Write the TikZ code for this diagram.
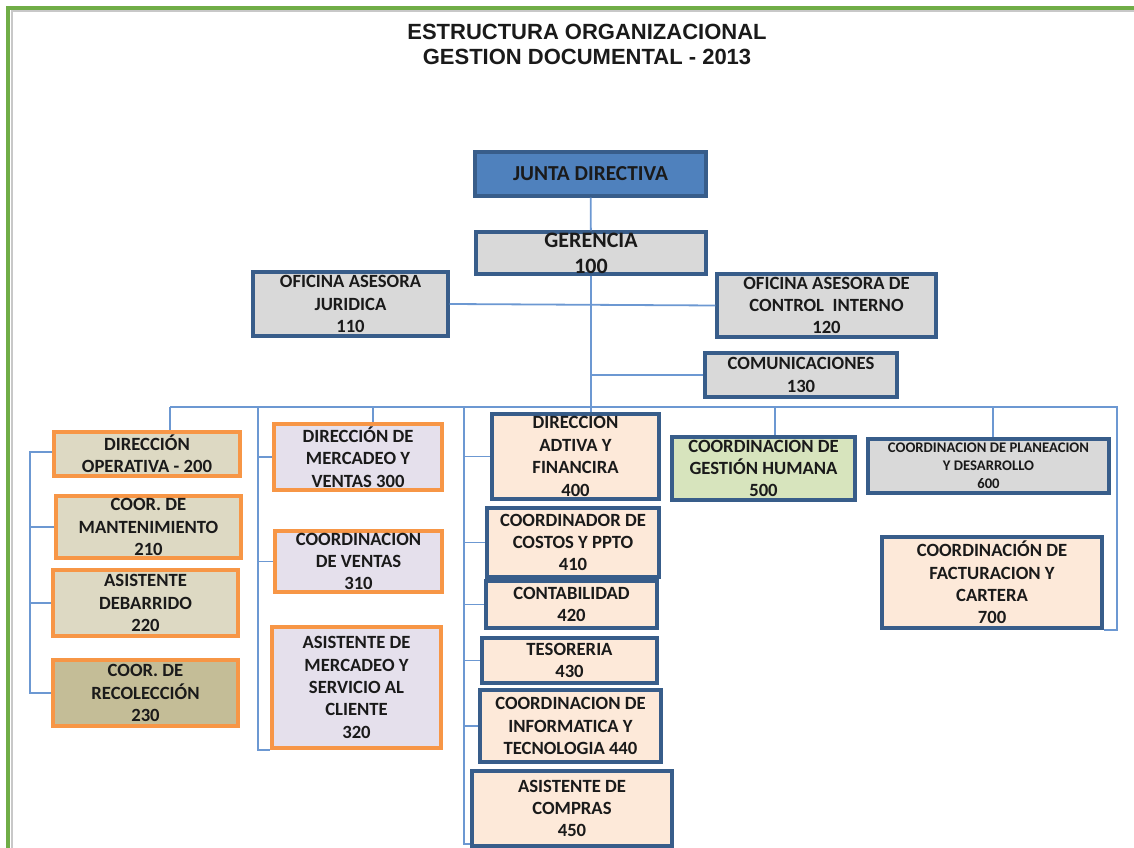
\documentclass[tikz,border=0pt]{standalone}
\usepackage{fontspec}
\setmainfont{Carlito}
\newfontfamily\titulofont{Liberation Sans}
\usetikzlibrary{positioning}
\definecolor{marco}{HTML}{70AD47}
\definecolor{marcogris}{HTML}{C8C8C8}
\definecolor{azuloscuro}{HTML}{385D8A}
\definecolor{azul}{HTML}{4F81BD}
\definecolor{lineaazul}{HTML}{6C98D2}
\definecolor{naranja}{HTML}{F79646}
\definecolor{grisclaro}{HTML}{D9D9D9}
\definecolor{beige}{HTML}{DDD9C3}
\definecolor{oliva}{HTML}{C4BD97}
\definecolor{lila}{HTML}{E5E0EC}
\definecolor{salmon}{HTML}{FDE9D9}
\definecolor{verdeclaro}{HTML}{D7E4BD}
\definecolor{texto}{HTML}{1A1A1A}
\newlength{\unpx}
\setlength{\unpx}{0.75pt}
\tikzset{
  tam/.style 2 args={minimum width=#1\unpx, minimum height=#2\unpx},
  caja/.style={rectangle, draw=azuloscuro, line width=3.2\unpx, fill=grisclaro,
    text=texto, font=\fontsize{14}{16.8}\selectfont\bfseries, align=center,
    inner sep=0pt},
  cajaazul/.style={caja, fill=azul, font=\fontsize{16}{19}\selectfont\bfseries},
  cajager/.style={caja, font=\fontsize{16.5}{19.5}\selectfont\bfseries},
  cajaop/.style={caja, draw=naranja, fill=beige},
  cajarec/.style={cajaop, fill=oliva},
  cajamer/.style={caja, draw=naranja, fill=lila},
  cajafin/.style={caja, fill=salmon},
  cajahum/.style={caja, fill=verdeclaro},
  cajaplan/.style={caja, font=\fontsize{11}{13.5}\selectfont\bfseries},
  linea/.style={draw=lineaazul, line width=1.8\unpx},
  titulo/.style={font=\titulofont\fontsize{16.5}{18.8}\selectfont\bfseries,
    text=texto, align=center}
}

\begin{document}
\begin{tikzpicture}[x=0.75pt, y=-0.75pt]
  \useasboundingbox (0,0) rectangle (1134,848);
  % marco
  \fill[marco] (6,6) rectangle (1134,10);
  \fill[marco] (6,6) rectangle (10,848);
  \draw[marcogris, line width=2\unpx] (11.5,848) -- (11.5,11.5) -- (1134,11.5);

  \node[titulo] (titulo) at (587,44) {ESTRUCTURA ORGANIZACIONAL\\ GESTION DOCUMENTAL - 2013};

  % direccion general
  \node[cajaazul, tam={231}{44}] (junta) at (590.5,174) {JUNTA DIRECTIVA};
  \node[cajager, tam={230}{42}] (gerencia) at (591,253) {GERENCIA\\100};
  \node[caja, tam={195}{64}] (juridica) at (350.5,304) {OFICINA ASESORA\\JURIDICA\\110};
  \node[caja, tam={219}{63}] (control) at (826.5,305.5) {OFICINA ASESORA DE\\CONTROL\ \ INTERNO\\120};
  \node[caja, tam={192}{44}] (comunic) at (801,375) {COMUNICACIONES\\130};

  % operativa
  \node[cajaop, tam={186}{44}] (oper) at (147,454) {DIRECCIÓN\\OPERATIVA - 200};
  \node[cajaop, tam={185}{62}] (mant) at (148.5,527) {COOR. DE\\MANTENIMIENTO\\210};
  \node[cajaop, tam={185}{66}] (barrido) at (145.5,603) {ASISTENTE\\DEBARRIDO\\220};
  \node[cajarec, tam={185}{66}] (recol) at (145.5,693) {COOR. DE\\RECOLECCIÓN\\230};

  % mercadeo
  \node[cajamer, tam={168}{66}] (mercadeo) at (358,457) {DIRECCIÓN DE\\MERCADEO Y\\VENTAS 300};
  \node[cajamer, tam={167}{61}] (ventas) at (358.5,561.5) {COORDINACION\\DE VENTAS\\310};
  \node[cajamer, tam={169}{121}] (servicio) at (356.5,687.5) {ASISTENTE DE\\MERCADEO Y\\SERVICIO AL\\CLIENTE\\320};

  % administrativa y financiera
  \node[cajafin, tam={167}{85}] (adtiva) at (575.5,456.5) {DIRECCION\\ADTIVA Y\\FINANCIRA\\400};
  \node[cajafin, tam={172}{69}] (costos) at (573,542.5) {COORDINADOR DE\\COSTOS Y PPTO\\410};
  \node[cajafin, tam={171}{47}] (contab) at (571.5,604.5) {CONTABILIDAD\\420};
  \node[cajafin, tam={175}{45}] (tesor) at (569.5,660.5) {TESORERIA\\430};
  \node[cajafin, tam={181}{72}] (inform) at (570.5,726) {COORDINACION DE\\INFORMATICA Y\\TECNOLOGIA 440};
  \node[cajafin, tam={200}{75}] (compras) at (572,808.5) {ASISTENTE DE\\COMPRAS\\450};

  \node[cajahum, tam={183}{63}] (humana) at (763.5,468.5) {COORDINACION DE\\GESTIÓN HUMANA\\500};
  \node[cajaplan, tam={241}{54}] (planea) at (988.5,466) {COORDINACION DE PLANEACION\\Y DESARROLLO\\600};
  \node[cajafin, tam={220}{91}] (factura) at (992,582.5) {COORDINACIÓN DE\\FACTURACION Y\\CARTERA\\700};

  % conectores
  \coordinate (barraI) at (170,407);
  \coordinate (barraD) at (1117,407);
  \coordinate (bajaMer) at (373,407);
  \coordinate (rielMer) at (258,407);
  \coordinate (rielFin) at (464,407);
  \coordinate (bajaHum) at (775,407);
  \coordinate (bajaPlan) at (993,407);
  \coordinate (rielOp) at (30,452);

  \draw[linea] (junta) -- (gerencia);
  \draw[linea] (gerencia.south) -- (gerencia.south |- adtiva.north);
  \draw[linea] (juridica.east) -- (control.west);
  \draw[linea] (comunic.west) -- (comunic.west -| gerencia.south);
  \draw[linea] (barraI) -- (barraD) |- (factura.south east);
  \draw[linea] (barraI) -- (barraI |- oper.north);
  \draw[linea] (bajaMer) -- (bajaMer |- mercadeo.north);
  \draw[linea] (bajaHum) -- (bajaHum |- humana.north);
  \draw[linea] (bajaPlan) -- (bajaPlan |- planea.north);

  \draw[linea] (oper.west |- rielOp) -- (rielOp) |- (recol.west);
  \draw[linea] (rielOp |- mant.west) -- (mant.west);
  \draw[linea] (rielOp |- barrido.west) -- (barrido.west);

  \draw[linea] (rielMer) |- (servicio.south west);
  \draw[linea] (rielMer |- mercadeo.west) -- (mercadeo.west);
  \draw[linea] (rielMer |- ventas.west) -- (ventas.west);

  \draw[linea] (rielFin) |- ([yshift=3pt]compras.south west);
  \foreach \n in {adtiva, costos, contab, tesor, inform}
    \draw[linea] (rielFin |- \n.west) -- (\n.west);
\end{tikzpicture}
\end{document}
